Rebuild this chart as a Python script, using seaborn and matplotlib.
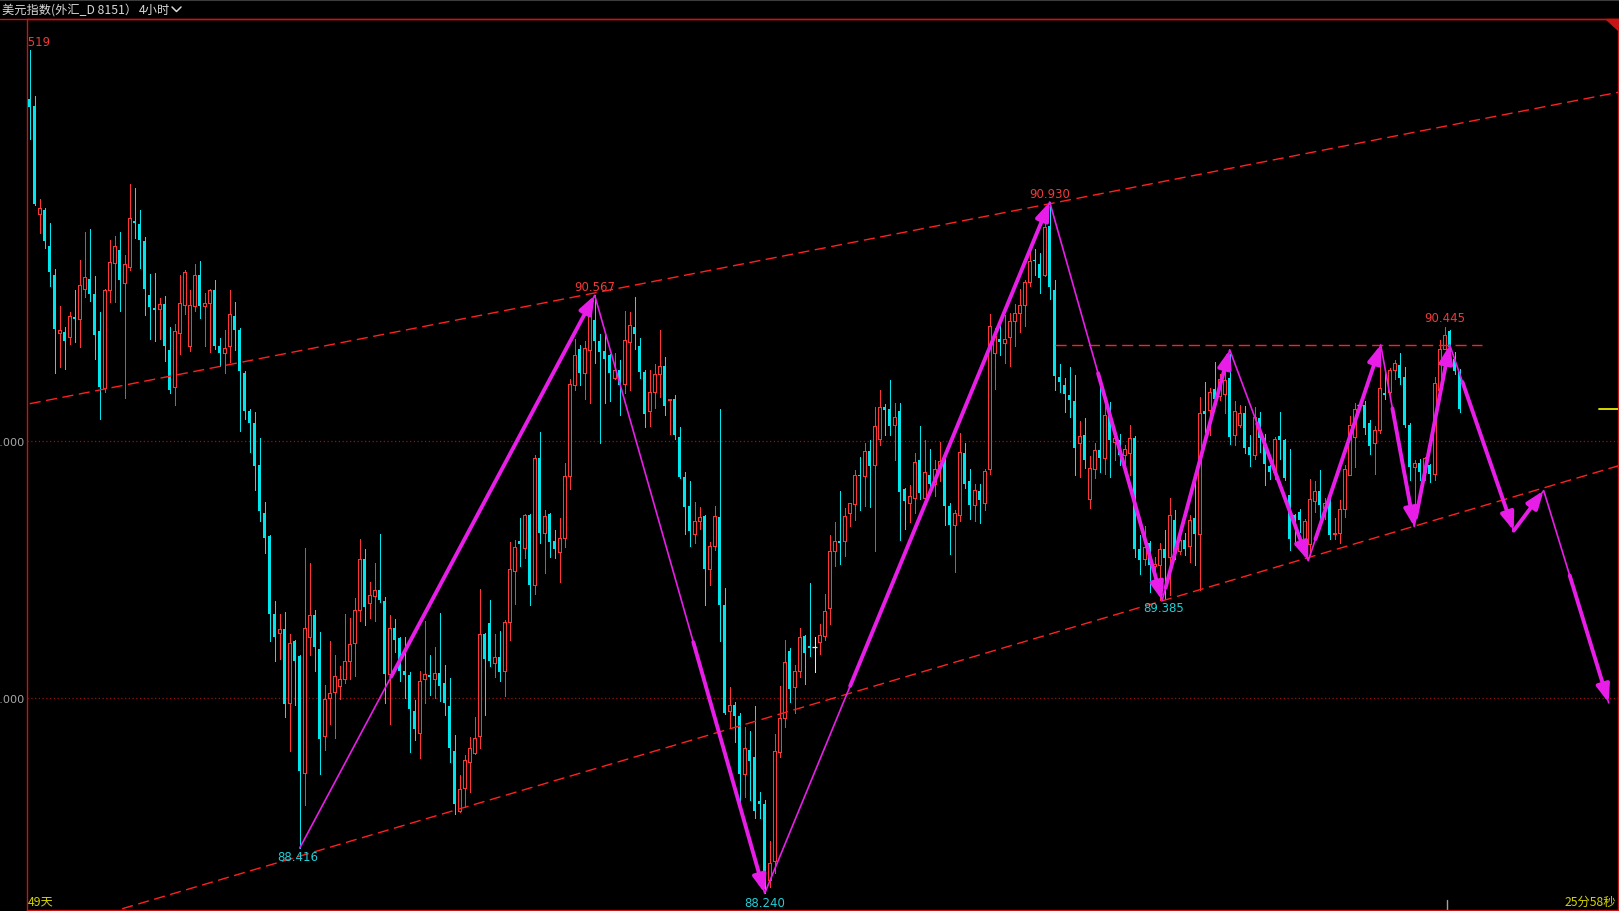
import matplotlib
matplotlib.use("Agg")
import matplotlib.pyplot as plt
import numpy as np
import pandas as pd
import seaborn as sns
from matplotlib.lines import Line2D
from matplotlib.patches import Polygon

# 美元指数 4小时 K线
opens = [
    91.329, 91.304, 90.882, 90.900, 90.760, 90.647, 90.420, 90.426, 90.404, 90.482, 90.474, 90.591,
    90.632, 90.573, 90.428, 90.208, 90.587, 90.694, 90.744, 90.614, 90.676, 90.855, 90.845, 90.777,
    90.569, 90.517, 90.513, 90.534, 90.354, 90.210, 90.420, 90.531, 90.369, 90.527, 90.647, 90.525,
    90.536, 90.589, 90.369, 90.342, 90.371, 90.488, 90.433, 90.264, 90.117, 90.070, 89.905, 89.720,
    89.629, 89.328, 89.254, 89.269, 88.980, 89.221, 89.164, 88.709, 89.236, 89.324, 89.190, 88.851,
    88.999, 89.024, 89.048, 89.073, 89.145, 89.213, 89.343, 89.541, 89.368, 89.396, 89.419, 89.376,
    89.093, 89.273, 89.232, 89.105, 89.090, 88.949, 88.864, 89.072, 89.090, 89.075, 89.098, 89.060,
    88.970, 88.795, 88.562, 88.651, 88.752, 88.785, 88.852, 89.250, 89.291, 89.138, 89.160, 89.105,
    89.296, 89.495, 89.611, 89.585, 89.711, 89.440, 89.932, 89.641, 89.716, 89.611, 89.567, 89.622,
    89.862, 90.219, 90.356, 90.264, 90.353, 90.472, 90.389, 90.351, 90.334, 90.247, 90.278, 90.222,
    90.386, 90.445, 90.368, 90.270, 90.115, 90.189, 90.259, 90.293, 90.158, 90.162, 90.016, 89.860,
    89.748, 89.638, 89.689, 89.708, 89.503, 89.592, 89.705, 89.361, 88.949, 88.974, 88.929, 88.706,
    88.799, 88.772, 88.598, 88.589, 88.293, 88.364, 88.790, 88.923, 89.184, 89.042, 89.104, 89.242,
    89.202, 89.200, 89.216, 89.242, 89.349, 89.571, 89.611, 89.610, 89.718, 89.753, 89.869, 89.863,
    89.961, 89.908, 90.009, 90.133, 90.126, 90.062, 90.117, 89.815, 89.757, 89.780, 89.925, 89.780,
    89.867, 89.831, 89.899, 89.922, 89.748, 89.674, 89.713, 89.952, 89.846, 89.752, 89.805, 89.757,
    89.890, 90.342, 90.396, 90.381, 90.405, 90.467, 90.497, 90.529, 90.617, 90.706, 90.688, 90.644,
    90.836, 90.587, 90.248, 90.218, 90.179, 90.156, 89.991, 90.023, 89.775, 89.890, 89.966, 89.934,
    90.102, 89.996, 90.005, 89.944, 89.953, 90.012, 89.581, 89.542, 89.603, 89.514, 89.516, 89.581,
    89.549, 89.694, 89.572, 89.613, 89.590, 89.700, 89.639, 90.117, 90.119, 90.204, 90.174, 90.184,
    90.246, 90.022, 90.064, 90.109, 89.977, 89.944, 90.091, 90.012, 89.901, 89.879, 90.018, 90.005,
    89.791, 89.713, 89.724, 89.601, 89.601, 89.765, 89.805, 89.739, 89.767, 89.638, 89.642, 89.734,
    89.869, 90.016, 90.139, 90.139, 90.070, 89.992, 90.044, 90.187, 90.191, 90.278, 90.297, 90.249,
    90.064, 89.899, 89.914, 89.879, 89.908, 89.873, 90.197, 90.359, 90.427, 90.320, 90.268,
]
highs = [
    91.520, 91.343, 90.943, 90.906, 90.849, 90.670, 90.527, 90.445, 90.501, 90.589, 90.705, 90.814,
    90.824, 90.643, 90.503, 90.593, 90.781, 90.799, 90.814, 90.725, 91.001, 90.983, 90.900, 90.793,
    90.651, 90.655, 90.556, 90.564, 90.445, 90.457, 90.645, 90.667, 90.587, 90.690, 90.700, 90.577,
    90.592, 90.626, 90.402, 90.433, 90.589, 90.542, 90.439, 90.272, 90.124, 90.111, 90.012, 89.763,
    89.635, 89.378, 89.326, 89.335, 89.248, 89.225, 89.166, 89.582, 89.526, 89.341, 89.258, 89.052,
    89.221, 89.166, 89.124, 89.328, 89.310, 89.388, 89.619, 89.578, 89.450, 89.526, 89.639, 89.392,
    89.321, 89.306, 89.239, 89.239, 89.100, 88.993, 89.105, 89.299, 89.168, 89.197, 89.331, 89.127,
    89.078, 88.856, 88.699, 88.778, 88.849, 88.926, 89.425, 89.254, 89.381, 89.250, 89.261, 89.302,
    89.607, 89.614, 89.701, 89.716, 89.714, 89.946, 90.036, 89.730, 89.719, 89.652, 89.701, 89.914,
    90.240, 90.398, 90.375, 90.389, 90.505, 90.567, 90.418, 90.423, 90.338, 90.341, 90.314, 90.505,
    90.500, 90.561, 90.401, 90.278, 90.277, 90.299, 90.433, 90.326, 90.165, 90.177, 90.055, 89.879,
    89.845, 89.763, 89.742, 89.713, 89.608, 89.748, 90.125, 89.428, 89.041, 88.983, 88.941, 88.889,
    88.870, 88.967, 88.636, 88.604, 88.444, 88.861, 89.047, 89.225, 89.193, 89.127, 89.274, 89.246,
    89.446, 89.237, 89.287, 89.406, 89.636, 89.686, 89.805, 89.739, 89.760, 89.886, 89.938, 89.991,
    90.005, 90.133, 90.200, 90.144, 90.236, 90.147, 90.147, 89.819, 89.828, 89.952, 90.059, 90.005,
    89.970, 89.925, 89.996, 89.931, 89.757, 89.730, 90.032, 89.991, 89.890, 89.831, 89.831, 89.890,
    90.493, 90.440, 90.449, 90.490, 90.499, 90.534, 90.591, 90.626, 90.736, 90.747, 90.733, 90.862,
    90.930, 90.626, 90.298, 90.245, 90.286, 90.257, 90.076, 90.090, 89.943, 89.993, 90.215, 90.183,
    90.152, 90.035, 90.029, 89.983, 90.064, 90.019, 89.633, 89.668, 89.610, 89.549, 89.603, 89.655,
    89.778, 89.733, 89.626, 89.642, 89.713, 89.860, 90.171, 90.230, 90.206, 90.307, 90.262, 90.275,
    90.340, 90.154, 90.139, 90.136, 90.022, 90.132, 90.113, 90.029, 89.905, 90.016, 90.113, 90.009,
    89.970, 89.717, 89.734, 89.698, 89.853, 89.843, 89.886, 89.778, 89.786, 89.700, 89.769, 89.905,
    90.096, 90.148, 90.149, 90.154, 90.083, 90.057, 90.303, 90.281, 90.284, 90.314, 90.342, 90.288,
    90.070, 89.927, 89.931, 89.938, 89.912, 90.249, 90.392, 90.445, 90.431, 90.346, 90.281,
]
lows = [
    91.174, 90.918, 90.808, 90.752, 90.604, 90.264, 90.288, 90.282, 90.379, 90.387, 90.367, 90.562,
    90.544, 90.319, 90.087, 90.192, 90.542, 90.542, 90.505, 90.169, 90.667, 90.789, 90.674, 90.490,
    90.398, 90.391, 90.396, 90.311, 90.185, 90.140, 90.340, 90.496, 90.350, 90.507, 90.478, 90.369,
    90.346, 90.358, 90.290, 90.266, 90.309, 90.354, 90.039, 90.087, 89.959, 89.808, 89.689, 89.565,
    89.221, 89.143, 89.151, 88.925, 88.793, 88.974, 88.416, 88.585, 89.166, 89.104, 88.706, 88.799,
    88.898, 88.846, 88.995, 89.059, 89.073, 89.087, 89.300, 89.285, 89.312, 89.300, 89.372, 88.980,
    88.897, 89.180, 89.068, 89.001, 88.788, 88.837, 88.767, 88.979, 89.013, 89.001, 88.989, 88.934,
    88.752, 88.547, 88.555, 88.577, 88.636, 88.781, 88.807, 88.934, 89.123, 89.083, 89.068, 89.008,
    89.224, 89.366, 89.515, 89.544, 89.363, 89.403, 89.604, 89.488, 89.547, 89.544, 89.452, 89.586,
    89.812, 90.200, 90.217, 90.165, 90.147, 90.304, 89.994, 90.147, 90.155, 90.241, 90.100, 90.185,
    90.197, 90.356, 90.247, 90.054, 90.058, 90.128, 90.170, 90.100, 90.028, 90.006, 89.857, 89.637,
    89.593, 89.604, 89.656, 89.361, 89.440, 89.574, 89.220, 88.937, 88.882, 88.830, 88.591, 88.614,
    88.604, 88.533, 88.533, 88.240, 88.263, 88.320, 88.772, 88.888, 88.985, 88.941, 89.083, 89.056,
    89.163, 89.100, 89.171, 89.225, 89.287, 89.512, 89.523, 89.551, 89.668, 89.691, 89.730, 89.748,
    89.743, 89.571, 89.984, 90.023, 90.023, 89.925, 89.615, 89.659, 89.686, 89.721, 89.775, 89.769,
    89.801, 89.784, 89.846, 89.674, 89.562, 89.491, 89.689, 89.819, 89.698, 89.689, 89.681, 89.730,
    89.872, 90.204, 90.334, 90.302, 90.293, 90.369, 90.426, 90.449, 90.603, 90.644, 90.577, 90.641,
    90.552, 90.200, 90.192, 90.112, 90.094, 89.867, 89.860, 89.895, 89.739, 89.855, 89.881, 89.872,
    89.860, 89.925, 89.905, 89.866, 89.866, 89.549, 89.484, 89.516, 89.412, 89.425, 89.380, 89.387,
    89.399, 89.542, 89.562, 89.555, 89.529, 89.516, 89.419, 90.035, 90.022, 90.139, 90.158, 90.109,
    89.987, 89.983, 90.054, 89.955, 89.903, 89.931, 89.957, 89.828, 89.853, 89.853, 89.931, 89.847,
    89.575, 89.594, 89.646, 89.562, 89.558, 89.724, 89.672, 89.698, 89.620, 89.620, 89.604, 89.704,
    89.866, 89.899, 90.128, 90.029, 89.948, 89.873, 90.031, 90.165, 90.184, 90.243, 90.223, 90.054,
    89.847, 89.750, 89.847, 89.847, 89.840, 89.847, 90.193, 90.357, 90.349, 90.262, 90.113,
]
closes = [
    91.298, 90.923, 90.906, 90.777, 90.657, 90.435, 90.431, 90.391, 90.488, 90.474, 90.608, 90.637,
    90.571, 90.412, 90.212, 90.589, 90.698, 90.758, 90.626, 90.690, 90.869, 90.849, 90.783, 90.591,
    90.521, 90.509, 90.534, 90.369, 90.200, 90.428, 90.536, 90.659, 90.529, 90.647, 90.525, 90.538,
    90.589, 90.371, 90.342, 90.361, 90.494, 90.431, 90.272, 90.115, 90.070, 89.901, 89.726, 89.621,
    89.326, 89.238, 89.269, 88.976, 89.215, 89.145, 88.717, 89.273, 89.322, 89.197, 88.840, 88.995,
    89.021, 89.085, 89.073, 89.145, 89.209, 89.341, 89.541, 89.355, 89.399, 89.419, 89.382, 89.094,
    89.273, 89.224, 89.105, 89.090, 88.959, 88.879, 89.068, 89.093, 89.080, 89.098, 89.046, 88.982,
    88.807, 88.588, 88.644, 88.760, 88.804, 88.845, 89.250, 89.153, 89.142, 89.160, 89.102, 89.296,
    89.500, 89.589, 89.601, 89.711, 89.440, 89.932, 89.641, 89.708, 89.608, 89.579, 89.622, 89.864,
    90.222, 90.334, 90.264, 90.363, 90.490, 90.389, 90.348, 90.319, 90.264, 90.278, 90.219, 90.393,
    90.453, 90.415, 90.267, 90.106, 90.192, 90.262, 90.292, 90.135, 90.162, 90.025, 89.860, 89.745,
    89.649, 89.689, 89.705, 89.503, 89.592, 89.708, 89.361, 88.941, 88.971, 88.929, 88.706, 88.807,
    88.754, 88.559, 88.586, 88.284, 88.359, 88.795, 88.923, 89.141, 89.035, 89.104, 89.239, 89.175,
    89.193, 89.200, 89.246, 89.340, 89.571, 89.611, 89.603, 89.709, 89.757, 89.869, 89.863, 89.961,
    89.902, 90.059, 90.133, 90.121, 90.059, 90.094, 89.801, 89.766, 89.784, 89.917, 89.796, 89.878,
    89.831, 89.890, 89.922, 89.748, 89.674, 89.718, 89.956, 89.831, 89.752, 89.810, 89.769, 89.885,
    90.449, 90.410, 90.387, 90.396, 90.467, 90.497, 90.529, 90.617, 90.701, 90.701, 90.633, 90.834,
    90.600, 90.254, 90.229, 90.183, 90.161, 89.973, 90.018, 89.925, 89.895, 89.966, 89.934, 90.103,
    90.003, 90.012, 89.944, 89.970, 90.012, 89.578, 89.536, 89.588, 89.516, 89.523, 89.581, 89.546,
    89.713, 89.555, 89.613, 89.581, 89.694, 89.639, 90.109, 90.104, 90.191, 90.162, 90.240, 90.236,
    90.016, 90.117, 90.109, 89.974, 89.944, 90.093, 90.012, 89.909, 89.879, 90.006, 90.003, 89.856,
    89.617, 89.691, 89.691, 89.687, 89.776, 89.805, 89.750, 89.760, 89.636, 89.642, 89.734, 89.890,
    90.064, 90.126, 90.139, 90.052, 89.979, 90.044, 90.206, 90.178, 90.278, 90.303, 90.246, 90.061,
    89.899, 89.916, 89.879, 89.934, 89.873, 90.226, 90.359, 90.414, 90.366, 90.271, 90.126,
]

# zigzag pivots: candle index / price, and where the thick arrow part starts (fraction of segment)
piv_k = [54, 113, 147, 204, 226.5, 240, 255.7, 270.2, 276.9, 284, 296.8, 302.8, 315.8]
piv_p = [88.416, 90.567, 88.240, 90.930, 89.380, 90.355, 89.534, 90.374, 89.667, 90.374, 89.651, 89.807, 88.981]
thick_from = [0.31, 0.58, 0.3, 0.43, 0.05, 0.35, 0.1, 0.35, 0.05, 0.2, 0.0, 0.4]

# channel lines (index, price) and the horizontal neckline
upper_k, upper_p = [0, 318], [90.145, 91.358]
lower_k, lower_p = [18.5, 318], [88.18, 89.905]
neck_k, neck_p = [205.1, 290.5], 90.372

hi_k, hi_p = [0, 113, 204, 283], [91.519, 90.567, 90.930, 90.445]
lo_k, lo_p = [53.7, 147, 226.8], [88.416, 88.240, 89.385]
grid_levels = [89.0, 90.0]

UP, DN, DOJI = "#ff3434", "#00e6ee", "#e8e8e8"
MAG = "#e81ee8"
AXRED = "#c81414"

sns.set_theme(style="dark", rc={"axes.facecolor": "black", "figure.facecolor": "black"})
plt.rcParams["font.family"] = ["Noto Sans CJK SC", "DejaVu Sans"]

W, H = 1619, 912
fig = plt.figure(figsize=(W / 100, H / 100), dpi=100, facecolor="black")
ax = fig.add_axes([27 / W, 1 / H, (1618 - 27) / W, (911 - 20) / H])
ax.set_facecolor("black")

df = pd.DataFrame({"open": opens, "high": highs, "low": lows, "close": closes})
df["k"] = np.arange(len(df))
up = df.close > df.open
dn = df.close < df.open
flat = df.close == df.open

wick_col = np.where(up, UP, np.where(dn, DN, DOJI))
ax.vlines(df.k, df.low, df.high, colors=wick_col, lw=0.72, antialiased=False, zorder=2)
body_lo = np.minimum(df.open, df.close)
body_h = np.maximum((df.open - df.close).abs(), 0.004)
ax.bar(df.k[dn], body_h[dn], bottom=body_lo[dn], width=0.62, color=DN,
       linewidth=0, antialiased=False, zorder=3)
ax.bar(df.k[up], body_h[up], bottom=body_lo[up], width=0.66, facecolor="black",
       edgecolor=UP, linewidth=0.5, antialiased=False, zorder=3)
ax.hlines(df.close[flat], df.k[flat] - 0.45, df.k[flat] + 0.45, colors=DOJI, lw=0.9, zorder=3)

# dotted price grid
for lv in grid_levels:
    ax.axhline(lv, color="#9a1010", lw=0.9, ls=(0, (1, 2)), zorder=1)

# channel + neckline
ax.plot(upper_k, upper_p, color="#ff2020", lw=1.0, ls=(0, (8, 4)), zorder=4)
ax.plot(lower_k, lower_p, color="#ff2020", lw=1.0, ls=(0, (8, 4)), zorder=4)
ax.plot(neck_k, [neck_p, neck_p], color="#ff2020", lw=1.0, ls=(0, (8, 4)), zorder=4)

# zigzag: thin full line and thick arrows
sns.lineplot(x=piv_k, y=piv_p, ax=ax, color=MAG, lw=1.2, estimator=None, sort=False,
             legend=False, zorder=5)
for i, f in enumerate(thick_from):
    k0, p0, k1, p1 = piv_k[i], piv_p[i], piv_k[i + 1], piv_p[i + 1]
    start = (k0 + f * (k1 - k0), p0 + f * (p1 - p0))
    ax.annotate("", xy=(k1, p1), xytext=start, zorder=6,
                arrowprops=dict(arrowstyle="-|>,head_length=0.75,head_width=0.28", color=MAG,
                                lw=2.8, shrinkA=0, shrinkB=0, mutation_scale=14))

# pivot labels
for k, p in zip(hi_k, hi_p):
    t = ax.annotate(f"{p:.3f}", (k, p), xytext=(0, 6.3), textcoords="offset points",
                    ha="center", va="center", color="#f03a3a", fontsize=8.5,
                    family="DejaVu Sans", zorder=7)
    t.set_clip_on(True)
    t.set_clip_box(ax.bbox)
for k, p in zip(lo_k, lo_p):
    ax.annotate(f"{p:.3f}", (k, p), xytext=(0, -6.3), textcoords="offset points",
                ha="center", va="center", color="#20d0d8", fontsize=8.5,
                family="DejaVu Sans", zorder=7)

# last price marker and time tick
ax.plot([313.9, 317.7], [closes[-1], closes[-1]], color="#e8e800", lw=1.3, zorder=6)
ax.plot([283.5, 283.5], [0, 0.011], color="#a0a0a0", lw=1.0,
        transform=ax.get_xaxis_transform(), clip_on=False)

ax.set_xlim(-0.54, 317.66)
ax.set_ylim(88.175, 91.642)
ax.set_xticks([])
ax.set_yticks(grid_levels)
ax.set_yticklabels([f"{v:.3f}" for v in grid_levels], family="DejaVu Sans")
ax.tick_params(axis="y", length=0, pad=1.5, labelcolor="#a8a8a8", labelsize=8.1)
ax.grid(False)
for s in ax.spines.values():
    s.set_color(AXRED)
    s.set_linewidth(1.0)

# title bar
fig.add_artist(Line2D([0, 1], [1 - 0.6 / H, 1 - 0.6 / H], color="#3c3c3c", lw=1.5))
fig.add_artist(Line2D([0, 1618 / W], [1 - 20 / H, 1 - 20 / H], color=AXRED, lw=1.0))
fig.text(2 / W, 1 - 10.5 / H, "美元指数(外汇_D 8151）", color="#d8d8d8", fontsize=8.8,
         ha="left", va="center")
fig.text(139 / W, 1 - 10.5 / H, "4小时", color="#d8d8d8", fontsize=8.8, ha="left", va="center")
fig.add_artist(Line2D([172 / W, 176.5 / W, 181 / W], [1 - 8 / H, 1 - 12.5 / H, 1 - 8 / H],
                      color="#d8d8d8", lw=1.1))
fig.add_artist(Polygon([[1606 / W, 1 - 20 / H], [1618 / W, 1 - 20 / H], [1618 / W, 1 - 31 / H]],
                       closed=True, color=AXRED, transform=fig.transFigure))

fig.text(28 / W, 10 / H, "49天", color="#d4d400", fontsize=8.8, ha="left", va="center")
fig.text(1616 / W, 10 / H, "25分58秒", color="#d4d400", fontsize=8.8, ha="right", va="center")

fig.savefig("out.png", dpi=100, facecolor="black")
